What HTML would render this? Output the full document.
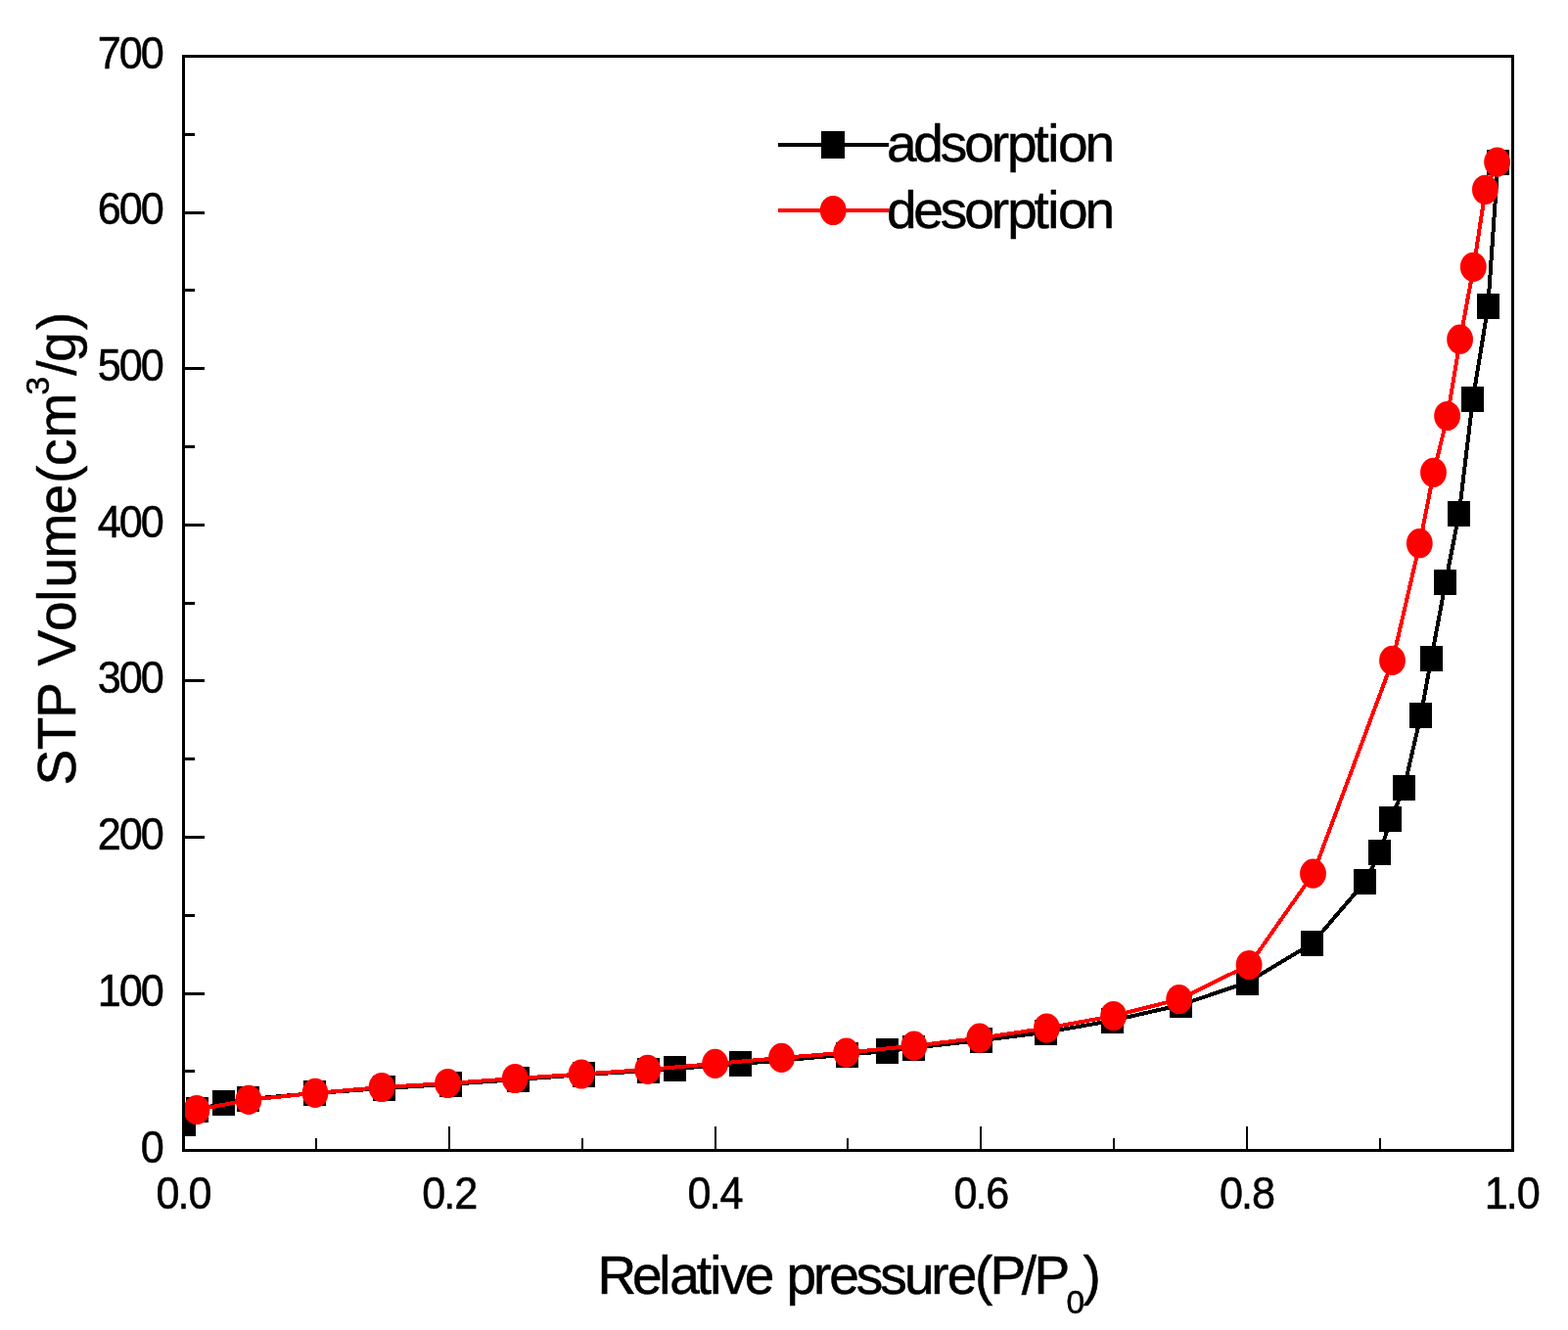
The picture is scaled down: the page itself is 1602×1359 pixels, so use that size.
<!DOCTYPE html>
<html lang="en"><head><meta charset="utf-8"><title>adsorption desorption</title>
<style>html,body{margin:0;padding:0;background:#fff}body{width:1602px;height:1359px;overflow:hidden}svg{display:block}text{font-family:"Liberation Sans",Arial,Helvetica,sans-serif;fill:#000;stroke:#000;stroke-width:0.5px;stroke-linejoin:round}</style>
</head><body>
<svg width="1602" height="1359" viewBox="0 0 1602 1359">
<rect x="0" y="0" width="1602" height="1359" fill="#fff"/>
<defs><clipPath id="plot"><rect x="189" y="59" width="1355" height="1115"/></clipPath></defs>
<g clip-path="url(#plot)">
<polyline shape-rendering="crispEdges" fill="none" stroke="#000" stroke-width="4" stroke-linejoin="round" points="188.8,1147.6 201.8,1134.0 228.8,1127.0 253.8,1123.0 321.7,1117.0 392.3,1112.0 460.8,1107.8 529.3,1103.0 596.8,1098.0 662.8,1094.0 689.7,1091.9 756.8,1087.0 865.8,1077.6 907.2,1074.0 933.7,1070.6 1002.6,1063.0 1069.1,1054.7 1137.0,1042.8 1206.4,1026.8 1274.3,1003.8 1340.8,964.0 1394.3,901.4 1410.2,871.0 1420.8,837.0 1434.6,804.8 1451.7,730.8 1462.3,673.1 1476.9,595.0 1490.7,525.1 1504.8,408.0 1520.3,313.0 1530.4,165.5"/>
<g shape-rendering="crispEdges" fill="#000">
<rect x="177.0" y="1134.6" width="23" height="26"/>
<rect x="190.0" y="1121.0" width="23" height="26"/>
<rect x="217.0" y="1114.0" width="23" height="26"/>
<rect x="242.0" y="1110.0" width="23" height="26"/>
<rect x="309.9" y="1104.0" width="23" height="26"/>
<rect x="380.5" y="1099.0" width="23" height="26"/>
<rect x="449.0" y="1094.8" width="23" height="26"/>
<rect x="517.5" y="1090.0" width="23" height="26"/>
<rect x="585.0" y="1085.0" width="23" height="26"/>
<rect x="651.0" y="1081.0" width="23" height="26"/>
<rect x="677.9" y="1078.9" width="23" height="26"/>
<rect x="745.0" y="1074.0" width="23" height="26"/>
<rect x="854.0" y="1064.6" width="23" height="26"/>
<rect x="895.4" y="1061.0" width="23" height="26"/>
<rect x="921.9" y="1057.6" width="23" height="26"/>
<rect x="990.8" y="1050.0" width="23" height="26"/>
<rect x="1057.3" y="1041.7" width="23" height="26"/>
<rect x="1125.2" y="1029.8" width="23" height="26"/>
<rect x="1194.6" y="1013.8" width="23" height="26"/>
<rect x="1262.5" y="990.8" width="23" height="26"/>
<rect x="1329.0" y="951.0" width="23" height="26"/>
<rect x="1382.5" y="888.4" width="23" height="26"/>
<rect x="1398.4" y="858.0" width="23" height="26"/>
<rect x="1409.0" y="824.0" width="23" height="26"/>
<rect x="1422.8" y="791.8" width="23" height="26"/>
<rect x="1439.9" y="717.8" width="23" height="26"/>
<rect x="1450.5" y="660.1" width="23" height="26"/>
<rect x="1465.1" y="582.0" width="23" height="26"/>
<rect x="1478.9" y="512.1" width="23" height="26"/>
<rect x="1493.0" y="395.0" width="23" height="26"/>
<rect x="1508.5" y="300.0" width="23" height="26"/>
<rect x="1518.6" y="152.5" width="23" height="26"/>
</g>
<polyline shape-rendering="crispEdges" fill="none" stroke="#f00" stroke-width="4" stroke-linejoin="round" points="201.3,1134.0 254.3,1123.8 322.3,1116.9 390.3,1111.0 457.8,1107.0 526.5,1102.0 594.3,1097.5 662.0,1092.9 730.9,1086.9 798.8,1080.9 865.0,1075.6 934.2,1068.6 1001.1,1060.7 1069.7,1050.5 1137.9,1038.0 1205.0,1021.0 1276.4,986.0 1341.8,892.6 1422.8,674.9 1450.6,555.2 1464.8,482.8 1478.9,425.0 1491.9,346.7 1505.6,272.8 1517.7,193.8 1529.9,165.6"/>
<g fill="#f00">
<ellipse cx="201.0" cy="1134.0" rx="13.4" ry="15.1"/>
<ellipse cx="254.0" cy="1123.8" rx="13.4" ry="15.1"/>
<ellipse cx="322.0" cy="1116.9" rx="13.4" ry="15.1"/>
<ellipse cx="390.0" cy="1111.0" rx="13.4" ry="15.1"/>
<ellipse cx="457.5" cy="1107.0" rx="13.4" ry="15.1"/>
<ellipse cx="526.2" cy="1102.0" rx="13.4" ry="15.1"/>
<ellipse cx="594.0" cy="1097.5" rx="13.4" ry="15.1"/>
<ellipse cx="661.7" cy="1092.9" rx="13.4" ry="15.1"/>
<ellipse cx="730.6" cy="1086.9" rx="13.4" ry="15.1"/>
<ellipse cx="798.5" cy="1080.9" rx="13.4" ry="15.1"/>
<ellipse cx="864.7" cy="1075.6" rx="13.4" ry="15.1"/>
<ellipse cx="933.9" cy="1068.6" rx="13.4" ry="15.1"/>
<ellipse cx="1000.8" cy="1060.7" rx="13.4" ry="15.1"/>
<ellipse cx="1069.4" cy="1050.5" rx="13.4" ry="15.1"/>
<ellipse cx="1137.6" cy="1038.0" rx="13.4" ry="15.1"/>
<ellipse cx="1204.7" cy="1021.0" rx="13.4" ry="15.1"/>
<ellipse cx="1276.1" cy="986.0" rx="13.4" ry="15.1"/>
<ellipse cx="1341.5" cy="892.6" rx="13.4" ry="15.1"/>
<ellipse cx="1422.5" cy="674.9" rx="13.4" ry="15.1"/>
<ellipse cx="1450.3" cy="555.2" rx="13.4" ry="15.1"/>
<ellipse cx="1464.5" cy="482.8" rx="13.4" ry="15.1"/>
<ellipse cx="1478.6" cy="425.0" rx="13.4" ry="15.1"/>
<ellipse cx="1491.6" cy="346.7" rx="13.4" ry="15.1"/>
<ellipse cx="1505.3" cy="272.8" rx="13.4" ry="15.1"/>
<ellipse cx="1517.4" cy="193.8" rx="13.4" ry="15.1"/>
<ellipse cx="1529.6" cy="165.6" rx="13.4" ry="15.1"/>
</g>
</g>
<g shape-rendering="crispEdges" stroke="#000" fill="none">
<rect x="187.5" y="57.5" width="1358.0" height="1118.0" stroke-width="3"/>
<rect x="322" y="1163" width="2" height="12" fill="#000" stroke="none"/>
<rect x="458" y="1151" width="2" height="24" fill="#000" stroke="none"/>
<rect x="594" y="1163" width="2" height="12" fill="#000" stroke="none"/>
<rect x="730" y="1151" width="2" height="24" fill="#000" stroke="none"/>
<rect x="865" y="1163" width="2" height="12" fill="#000" stroke="none"/>
<rect x="1001" y="1151" width="2" height="24" fill="#000" stroke="none"/>
<rect x="1137" y="1163" width="2" height="12" fill="#000" stroke="none"/>
<rect x="1273" y="1151" width="2" height="24" fill="#000" stroke="none"/>
<rect x="1409" y="1163" width="2" height="12" fill="#000" stroke="none"/>
<rect x="188" y="1093" width="11" height="3" fill="#000" stroke="none"/>
<rect x="188" y="1014" width="21" height="3" fill="#000" stroke="none"/>
<rect x="188" y="934" width="11" height="3" fill="#000" stroke="none"/>
<rect x="188" y="854" width="21" height="3" fill="#000" stroke="none"/>
<rect x="188" y="774" width="11" height="3" fill="#000" stroke="none"/>
<rect x="188" y="694" width="21" height="3" fill="#000" stroke="none"/>
<rect x="188" y="615" width="11" height="3" fill="#000" stroke="none"/>
<rect x="188" y="535" width="21" height="3" fill="#000" stroke="none"/>
<rect x="188" y="455" width="11" height="3" fill="#000" stroke="none"/>
<rect x="188" y="375" width="21" height="3" fill="#000" stroke="none"/>
<rect x="188" y="295" width="11" height="3" fill="#000" stroke="none"/>
<rect x="188" y="216" width="21" height="3" fill="#000" stroke="none"/>
<rect x="188" y="136" width="11" height="3" fill="#000" stroke="none"/>
</g>
<g>
<text transform="translate(0,1187.50) scale(0.9600,1.0200)" x="149.75" y="0.00" font-size="45.00">0</text>
<text transform="translate(0,1027.79) scale(0.9600,1.0200)" x="103.92 126.84 149.75" y="0.00" font-size="45.00">100</text>
<text transform="translate(0,868.07) scale(0.9600,1.0200)" x="103.92 126.84 149.75" y="0.00" font-size="45.00">200</text>
<text transform="translate(0,708.36) scale(0.9600,1.0200)" x="103.92 126.84 149.75" y="0.00" font-size="45.00">300</text>
<text transform="translate(0,548.64) scale(0.9600,1.0200)" x="103.92 126.84 149.75" y="0.00" font-size="45.00">400</text>
<text transform="translate(0,388.93) scale(0.9600,1.0200)" x="103.92 126.84 149.75" y="0.00" font-size="45.00">500</text>
<text transform="translate(0,229.21) scale(0.9600,1.0200)" x="103.92 126.84 149.75" y="0.00" font-size="45.00">600</text>
<text transform="translate(0,69.50) scale(0.9600,1.0200)" x="103.92 126.84 149.75" y="0.00" font-size="45.00">700</text>
<text transform="translate(0,1234.70) scale(0.9600,1.0200)" x="166.14 189.05 200.50" y="0.00" font-size="45.00">0.0</text>
<text transform="translate(0,1234.70) scale(0.9600,1.0200)" x="449.31 472.22 483.67" y="0.00" font-size="45.00">0.2</text>
<text transform="translate(0,1234.70) scale(0.9600,1.0200)" x="731.75 754.67 766.12" y="0.00" font-size="45.00">0.4</text>
<text transform="translate(0,1234.70) scale(0.9600,1.0200)" x="1015.00 1037.91 1049.36" y="0.00" font-size="45.00">0.6</text>
<text transform="translate(0,1234.70) scale(0.9600,1.0200)" x="1297.90 1320.82 1332.27" y="0.00" font-size="45.00">0.8</text>
<text transform="translate(0,1234.70) scale(0.9600,1.0200)" x="1579.89 1602.80 1614.25" y="0.00" font-size="45.00">1.0</text>
</g>
<text y="1321.8" font-size="55.00"><tspan x="610.39 645.94 673.31 684.25 711.63 725.30 736.24 760.85 788.23 803.60 830.98 847.37 874.75 899.36 923.97 951.35 967.74 996.02 1011.51 1043.65 1056.62">Relative pressure(P/P</tspan><tspan x="1089.59" dy="20.6" font-size="33.50">0</tspan><tspan x="1106.50" dy="-20.6" font-size="55.00">)</tspan></text>
<g transform="translate(77.0,800.0) rotate(-90)">
<text y="0" font-size="55.00"><tspan x="-2.40 33.66 66.39 100.00 119.46 155.09 185.39 199.53 229.45 274.56 305.99 323.91 352.60">STP Volume(cm</tspan><tspan x="396.47" dy="-27" font-size="33.50">3</tspan><tspan x="416.25 430.39 462.68" dy="27" font-size="55.00">/g)</tspan></text>
</g>
<g shape-rendering="crispEdges">
<line x1="796.5" y1="148" x2="906.5" y2="148" stroke="#000" stroke-width="4" stroke-linecap="round"/>
<rect x="839" y="134" width="24" height="28" fill="#000"/>
<line x1="796.5" y1="215" x2="906.5" y2="215" stroke="#f00" stroke-width="4" stroke-linecap="round"/>
</g>
<ellipse cx="851.2" cy="215" rx="13.4" ry="15.1" fill="#f00"/>
<text transform="translate(0,165.40) scale(1.0000,0.9750)" x="905.96 933.34 960.72 985.33 1012.71 1029.10 1056.47 1070.15 1081.09 1108.46" y="0.00" font-size="55.00">adsorption</text>
<text transform="translate(0,233.00) scale(1.0000,0.9750)" x="905.99 933.37 960.74 985.36 1012.73 1029.13 1056.50 1070.18 1081.11 1108.49" y="0.00" font-size="55.00">desorption</text>
</svg>
</body></html>
